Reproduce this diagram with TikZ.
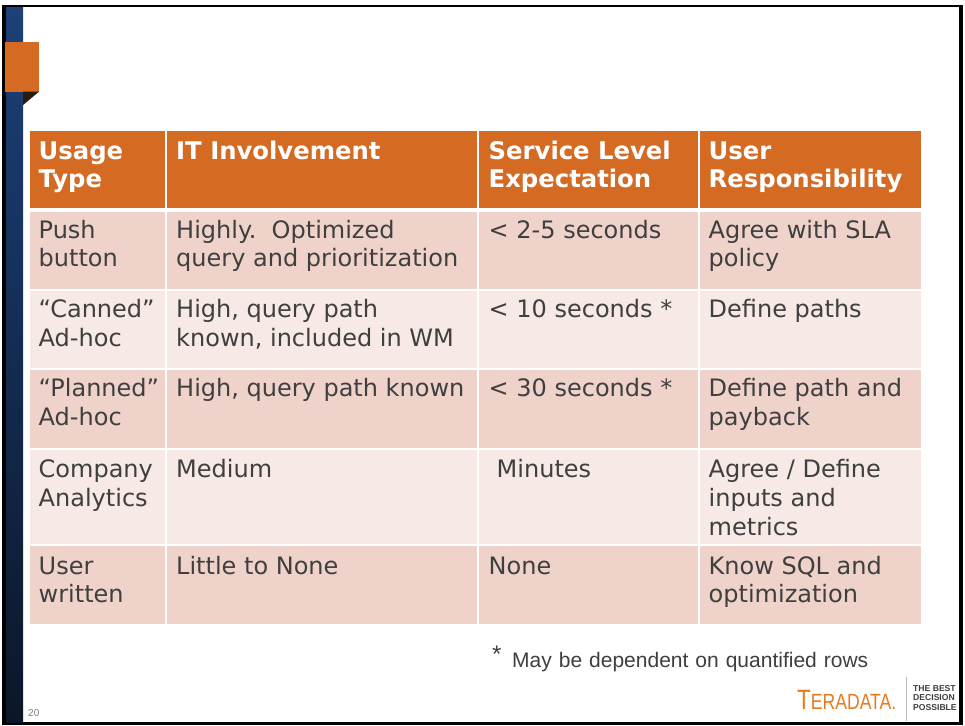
\documentclass[tikz,border=0pt]{standalone}
\usepackage{fontspec}
\newfontfamily\verd{DejaVu Sans}
\newfontfamily\arialf{Liberation Sans}
\definecolor{hdrorange}{HTML}{D56B23}
\definecolor{rowodd}{HTML}{EFD3CA}
\definecolor{roweven}{HTML}{F6E9E6}
\definecolor{txtgray}{HTML}{3F3F3F}
\definecolor{bartop}{HTML}{1C4079}
\definecolor{barbot}{HTML}{0B1628}
\definecolor{tabbrown}{HTML}{2B1B0E}
\definecolor{logoorange}{HTML}{E87A1F}
\definecolor{divgray}{HTML}{BBBBBB}
\definecolor{pagegray}{HTML}{808080}
\newcommand\bodyfnt{\verd\fontsize{24}{28.8}\selectfont\frenchspacing}
\newcommand\hdrfnt{\verd\bfseries\fontsize{24.3}{28.4}\selectfont}
\newcommand\mlines[1]{\vtop{\halign{##\hfil\cr#1\crcr}}}
\tikzset{
  hdrtext/.style={anchor=base west, inner sep=0pt, font=\hdrfnt, text=white},
  bodytext/.style={anchor=base west, inner sep=0pt, font=\bodyfnt, text=txtgray},
}
\begin{document}
\begin{tikzpicture}[x=1pt,y=-1pt]
\useasboundingbox (0,0) rectangle (965,725);
\fill[white] (0,0) rectangle (965,725);
% frame
\fill[black] (2,5) rectangle (6,725);
\fill[black] (2,5) rectangle (963,7.5);
\fill[black] (958.5,5) rectangle (963,725);
\fill[black] (2,722) rectangle (963,725);
% blue bar
\shade[top color=bartop, bottom color=barbot] (6,7.5) rectangle (23,722);
% orange tab
\fill[hdrorange] (5,41.7) rectangle (39,91.7);
\fill[tabbrown] (23,91.7) -- (39,91.7) -- (23,105) -- cycle;
% table cells
\foreach \xa/\xb in {30/165,167/477.3,479/697.7,700/921}{
  \fill[hdrorange] (\xa,131) rectangle (\xb,208);
  \fill[rowodd] (\xa,211.7) rectangle (\xb,289);
  \fill[roweven] (\xa,290.7) rectangle (\xb,367.7);
  \fill[rowodd] (\xa,370) rectangle (\xb,447.7);
  \fill[roweven] (\xa,450) rectangle (\xb,544);
  \fill[rowodd] (\xa,546) rectangle (\xb,623.7);
}
% header
\node[hdrtext] (h1) at (38.5,159) {\mlines{Usage\cr Type}};
\node[hdrtext] (h2) at (176,159) {IT Involvement};
\node[hdrtext] (h3) at (488.5,159) {\mlines{Service Level\cr Expectation}};
\node[hdrtext] (h4) at (708.5,159) {\mlines{User\cr Responsibility}};
% row 1
\node[bodytext] (a1) at (38.5,238) {\mlines{Push\cr button}};
\node[bodytext] (b1) at (176,238) {\mlines{Highly.\ \ Optimized\cr query and prioritization}};
\node[bodytext] (c1) at (488.5,238) {< 2-5 seconds};
\node[bodytext] (d1) at (708.5,238) {\mlines{Agree with SLA\cr policy}};
% row 2
\node[bodytext] (a2) at (38.5,317.3) {\mlines{“Canned”\cr Ad-hoc}};
\node[bodytext] (b2) at (176,317.3) {\mlines{High, query path\cr known, included in WM}};
\node[bodytext] (c2) at (488.5,317.3) {< 10 seconds *};
\node[bodytext] (d2) at (708.5,317.3) {Define paths};
% row 3
\node[bodytext] (a3) at (38.5,396.5) {\mlines{“Planned”\cr Ad-hoc}};
\node[bodytext] (b3) at (176,396.5) {High, query path known};
\node[bodytext] (c3) at (488.5,396.5) {< 30 seconds *};
\node[bodytext] (d3) at (708.5,396.5) {\mlines{Define path and\cr payback}};
% row 4
\node[bodytext] (a4) at (38.5,477.5) {\mlines{Company\cr Analytics}};
\node[bodytext] (b4) at (176,477.5) {Medium};
\node[bodytext] (c4) at (496.5,477.5) {Minutes};
\node[bodytext] (d4) at (708.5,477.5) {\mlines{Agree / Define\cr inputs and\cr metrics}};
% row 5
\node[bodytext] (a5) at (38.5,574) {\mlines{User\cr written}};
\node[bodytext] (b5) at (176,574) {Little to None};
\node[bodytext] (c5) at (488.5,574) {None};
\node[bodytext] (d5) at (708.5,574) {\mlines{Know SQL and\cr optimization}};
% footnote
\node[anchor=base west, inner sep=0pt, text=txtgray, font=\arialf\fontsize{24}{24}\selectfont] (ast) at (492,662.5) {*};
\node[anchor=base west, inner sep=0pt, text=txtgray, font=\arialf\fontsize{21}{21}\selectfont] (fn) at (512,667.3) {\spaceskip=7pt plus 1pt\relax May be dependent on quantified rows};
% page number
\node[anchor=base west, inner sep=0pt, text=pagegray, font=\arialf\fontsize{10}{10}\selectfont] (pg) at (28,716) {20};
% logo
\node[anchor=base west, inner sep=0pt, text=logoorange, draw=none] (logo) at (797,709) {\scalebox{0.8}[1]{{\arialf\fontsize{28}{28}\selectfont T}{\arialf\fontsize{22}{22}\selectfont ERADATA.}}};
\draw[divgray, line width=1pt] (906.7,677) -- (906.7,721);
\node[anchor=base west, inner sep=0pt, text=txtgray, font=\arialf\bfseries\fontsize{8.6}{9.6}\selectfont] (slogan) at (913,691) {\mlines{THE BEST\cr DECISION\cr POSSIBLE}};
\end{tikzpicture}
\end{document}
